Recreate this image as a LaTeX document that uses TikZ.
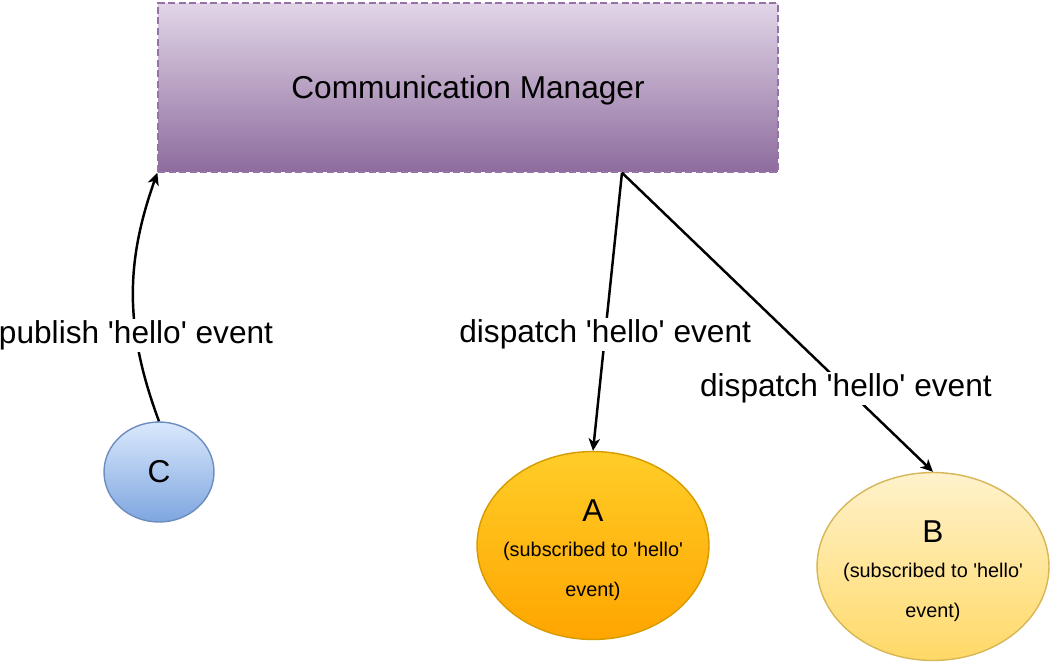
\documentclass[tikz,border=0pt]{standalone}
\usepackage{fontspec}
\setmainfont{Liberation Sans}
\usetikzlibrary{arrows.meta}
\usetikzlibrary{positioning}
\usetikzlibrary{shapes.geometric}

\definecolor{mgrtop}{HTML}{E1D5E7}
\definecolor{mgrbot}{HTML}{8E6C9E}
\definecolor{mgrline}{HTML}{9673A6}
\definecolor{ctop}{HTML}{DAE8FC}
\definecolor{cbot}{HTML}{7EA6E0}
\definecolor{cline}{HTML}{6C8EBF}
\definecolor{atop}{HTML}{FFCD28}
\definecolor{abot}{HTML}{FFA500}
\definecolor{aline}{HTML}{D79B00}
\definecolor{btop}{HTML}{FFF2CC}
\definecolor{bbot}{HTML}{FFD966}
\definecolor{bline}{HTML}{D6B656}

\newcommand{\sqt}{\textquotesingle}
\newcommand{\bigtxt}{\fontsize{18}{22}\selectfont}

\begin{document}
\begin{tikzpicture}[x=0.02cm,y=0.02cm,
   manager/.style={draw=mgrline,line width=0.8pt,dash pattern=on 4pt off 2pt,
      top color=mgrtop,bottom color=mgrbot,text depth=0pt,
      minimum width=12.4cm,minimum height=3.38cm,font=\bigtxt},
   client/.style={ellipse,line width=0.8pt,align=center,inner sep=-6pt,
      minimum width=4.64cm,minimum height=3.76cm,
      font=\fontsize{11.3}{22.8}\selectfont},
   msg/.style={fill=white,inner sep=1pt,font=\bigtxt},
   >={Stealth[length=7pt,width=6.5pt,inset=2pt]}]
   \useasboundingbox (0,0) rectangle (1051,664);
   \node[manager] (cm) at (468,576.5) {Communication Manager};
   \node[client,draw=cline,top color=ctop,bottom color=cbot,inner sep=0pt,
      minimum width=2.2cm,minimum height=2cm] (c) at (159,192) {\bigtxt C};
   \node[client,draw=aline,top color=atop,bottom color=abot] (a) at (593,118.5)
      {{\bigtxt\rule{0pt}{18pt}A}\\[-2.9pt] (subscribed to \sqt hello\sqt\\ event)};
   \node[client,draw=bline,top color=btop,bottom color=bbot] (b) at (933,97.5)
      {{\bigtxt\rule{0pt}{18pt}B}\\[-2.9pt] (subscribed to \sqt hello\sqt\\ event)};
   \coordinate (fork) at ([xshift=3.08cm]cm.south);
    \path[->,line width=1.4pt]
    (c.north) edge[bend left=20] node[msg,pos=0.34] {publish \sqt hello\sqt\ event} (cm.south west)
    (fork) edge node[msg,pos=0.58] {dispatch \sqt hello\sqt\ event} (a.north)
    (fork) edge node[msg,pos=0.72] {dispatch \sqt hello\sqt\ event} (b.north);
\end{tikzpicture}
\end{document}
